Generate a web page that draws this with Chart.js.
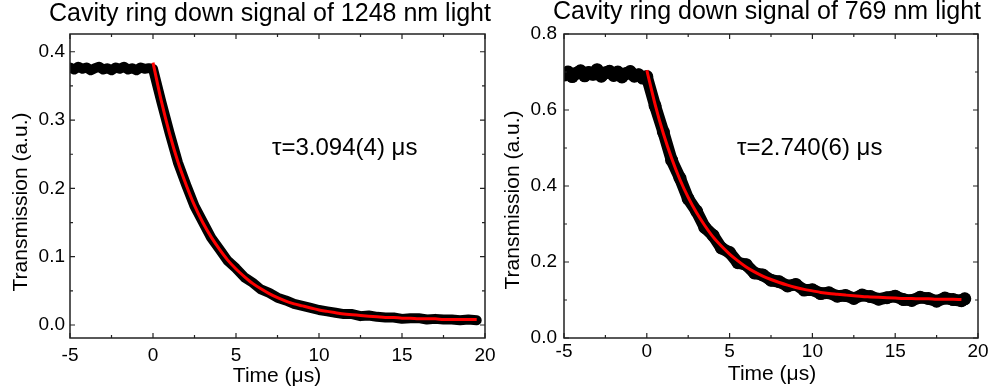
<!DOCTYPE html>
<html>
<head>
<meta charset="utf-8">
<script src="https://cdn.jsdelivr.net/npm/chart.js@4.4.0/dist/chart.umd.min.js"></script>
<style>
    body { margin: 0; background: #fff; }
    #contenedor { width: 990px; height: 391px; display: flex; }
    canvas { display: block; }
</style>
</head>
<body>
<div id="contenedor">
    <canvas id="chart1" width="495" height="391"></canvas>
    <canvas id="chart2" width="495" height="391"></canvas>
</div>
<script>
//--------------------------------------DATOS 1248 nm
var tiempo1248 = [-5, -4.75, -4.5, -4.25, -4, -3.75, -3.5, -3.25, -3, -2.75, -2.5, -2.25, -2, -1.75, -1.5, -1.25, -1, -0.75, -0.5, -0.25, 0,
    0.5, 1, 1.5, 2, 2.5, 3, 3.5, 4, 4.5, 5, 5.5, 6, 6.5, 7, 7.5, 8, 8.5, 9, 9.5, 10,
    10.5, 11, 11.5, 12, 12.5, 13, 13.5, 14, 14.5, 15, 15.5, 16, 16.5, 17, 17.5, 18, 18.5, 19, 19.5];
var senal1248 = [0.377, 0.374, 0.378, 0.375, 0.377, 0.373, 0.376, 0.378, 0.374, 0.376, 0.373, 0.377, 0.375, 0.378, 0.374, 0.376, 0.373, 0.377, 0.375, 0.376, 0.375,
    0.327, 0.281, 0.238, 0.205, 0.174, 0.151, 0.128, 0.111, 0.094, 0.083, 0.070, 0.062, 0.052, 0.047, 0.040, 0.036, 0.031, 0.028, 0.025, 0.022,
    0.020, 0.018, 0.016, 0.016, 0.013, 0.014, 0.012, 0.011, 0.011, 0.009, 0.010, 0.010, 0.008, 0.009, 0.008, 0.008, 0.007, 0.008, 0.007];
var tiempoAjuste1248 = [0, 0.5, 1, 1.5, 2, 2.5, 3, 3.5, 4, 4.5, 5, 5.5, 6, 6.5, 7, 7.5, 8, 8.5, 9, 9.5,
    10, 10.5, 11, 11.5, 12, 12.5, 13, 13.5, 14, 14.5, 15, 15.5, 16, 16.5, 17, 17.5, 18, 18.5, 19, 19.5];
var ajuste1248 = [0.384, 0.328, 0.280, 0.239, 0.205, 0.175, 0.150, 0.129, 0.111, 0.095, 0.082, 0.071, 0.061, 0.053, 0.046, 0.040, 0.035, 0.031, 0.028, 0.025,
    0.022, 0.020, 0.018, 0.016, 0.015, 0.014, 0.013, 0.012, 0.011, 0.011, 0.010, 0.010, 0.009, 0.009, 0.009, 0.008, 0.008, 0.008, 0.008, 0.008];

//--------------------------------------DATOS 769 nm
var tiempo769 = [-5, -4.75, -4.5, -4.25, -4, -3.75, -3.5, -3.25, -3, -2.75, -2.5, -2.25, -2, -1.75, -1.5, -1.25, -1, -0.75, -0.5, -0.25, 0,
    0.5, 1, 1.5, 2, 2.5, 3, 3.5, 4, 4.5, 5, 5.5, 6, 6.5, 7, 7.5, 8, 8.5, 9, 9.5, 10,
    10.5, 11, 11.5, 12, 12.5, 13, 13.5, 14, 14.5, 15, 15.5, 16, 16.5, 17, 17.5, 18, 18.5, 19, 19.2];
var senal769 = [0.692, 0.700, 0.688, 0.697, 0.703, 0.690, 0.699, 0.694, 0.706, 0.689, 0.698, 0.702, 0.691, 0.700, 0.687, 0.696, 0.701, 0.689, 0.693, 0.684, 0.688,
    0.611, 0.542, 0.468, 0.421, 0.366, 0.334, 0.291, 0.270, 0.237, 0.225, 0.198, 0.193, 0.171, 0.166, 0.152, 0.148, 0.137, 0.141, 0.126, 0.127,
    0.117, 0.119, 0.110, 0.112, 0.104, 0.113, 0.109, 0.102, 0.106, 0.110, 0.101, 0.099, 0.107, 0.104, 0.097, 0.105, 0.101, 0.098, 0.103];
var tiempoAjuste769 = [0, 0.5, 1, 1.5, 2, 2.5, 3, 3.5, 4, 4.5, 5, 5.5, 6, 6.5, 7, 7.5, 8, 8.5, 9, 9.5,
    10, 10.5, 11, 11.5, 12, 12.5, 13, 13.5, 14, 14.5, 15, 15.5, 16, 16.5, 17, 17.5, 18, 18.5, 19];
var ajuste769 = [0.705, 0.615, 0.538, 0.473, 0.417, 0.370, 0.330, 0.296, 0.266, 0.242, 0.221, 0.203, 0.187, 0.174, 0.163, 0.154, 0.146, 0.139, 0.133, 0.128,
    0.124, 0.120, 0.117, 0.115, 0.113, 0.111, 0.109, 0.108, 0.107, 0.106, 0.105, 0.104, 0.104, 0.103, 0.103, 0.102, 0.102, 0.102, 0.101];

//--------------------------------------EJES
var ticksX = [-5, 0, 5, 10, 15, 20];
var ticksY1248 = [0.0, 0.1, 0.2, 0.3, 0.4];
var ticksY769 = [0.0, 0.2, 0.4, 0.6, 0.8];

var fuente = "'Liberation Sans', Arial, sans-serif";

function puntos(xs, ys) {
    var arr = [];
    for (var i = 0; i < xs.length; i++) {
        arr.push({x: xs[i], y: ys[i]});
    }
    return arr;
}

// marco con ticks hacia adentro en los cuatro lados
var marco = {
    id: 'marco',
    afterDatasetsDraw: function (chart) {
        var ctx = chart.ctx;
        var a = chart.chartArea;
        var sx = chart.scales.x;
        var sy = chart.scales.y;
        var xs = sx.ticks.map(function (t) { return t.value; });
        var ys = sy.ticks.map(function (t) { return t.value; });
        ctx.save();
        ctx.strokeStyle = '#222';
        ctx.lineWidth = 1.2;
        ctx.beginPath();
        function tickX(v, len) {
            var p = sx.getPixelForValue(v);
            ctx.moveTo(p, a.bottom); ctx.lineTo(p, a.bottom - len);
            ctx.moveTo(p, a.top); ctx.lineTo(p, a.top + len);
        }
        function tickY(v, len) {
            var p = sy.getPixelForValue(v);
            ctx.moveTo(a.left, p); ctx.lineTo(a.left + len, p);
            ctx.moveTo(a.right, p); ctx.lineTo(a.right - len, p);
        }
        for (var i = 0; i < xs.length; i++) {
            tickX(xs[i], 5);
            if (i > 0) tickX((xs[i] + xs[i - 1]) / 2, 3);
        }
        for (var j = 0; j < ys.length; j++) {
            tickY(ys[j], 5);
            if (j > 0) tickY((ys[j] + ys[j - 1]) / 2, 3);
        }
        ctx.stroke();
        ctx.lineWidth = 1.5;
        ctx.strokeRect(a.left, a.top, a.right - a.left, a.bottom - a.top);
        ctx.restore();
    }
};

// titulos y anotacion
var textos = {
    id: 'textos',
    afterDraw: function (chart, args, o) {
        var ctx = chart.ctx;
        ctx.save();
        ctx.fillStyle = '#000';
        ctx.textBaseline = 'alphabetic';
        ctx.textAlign = 'center';
        ctx.font = '25px ' + fuente;
        ctx.fillText(o.titulo, o.tituloX, o.tituloY);
        ctx.font = '21px ' + fuente;
        ctx.fillText('Time (\u03bcs)', o.ejeXx, o.ejeXy);
        ctx.save();
        ctx.translate(o.ejeYx, o.ejeYy);
        ctx.rotate(-Math.PI / 2);
        ctx.textBaseline = 'middle';
        ctx.fillText('Transmission (a.u.)', 0, 0);
        ctx.restore();
        ctx.textAlign = 'left';
        ctx.font = '24px ' + fuente;
        ctx.fillText(o.nota, o.notaX, o.notaY);
        ctx.restore();
    }
};

function crearGrafica(id, tiempo, senal, tiempoAjuste, ajuste, cfg) {
    var canvas = document.getElementById(id);
    return new Chart(canvas, {
        type: 'scatter',
        data: {
            datasets: [{
                label: 'Ajuste',
                data: puntos(tiempoAjuste, ajuste),
                showLine: true,
                borderColor: '#ff0000',
                borderWidth: 3,
                pointRadius: 0,
                cubicInterpolationMode: 'monotone',
                order: 1
            }, {
                label: 'Datos',
                data: puntos(tiempo, senal),
                showLine: true,
                borderColor: '#000',
                backgroundColor: '#000',
                borderWidth: cfg.grosor,
                borderJoinStyle: 'round',
                borderCapStyle: 'round',
                pointRadius: cfg.radio,
                pointBorderWidth: 0,
                pointBackgroundColor: '#000',
                order: 2
            }]
        },
        options: {
            responsive: false,
            animation: false,
            devicePixelRatio: 1,
            layout: {
                padding: {top: 34, right: cfg.derecha, left: 0, bottom: 0}
            },
            scales: {
                x: {
                    type: 'linear',
                    min: -5,
                    max: 20,
                    grid: {display: false, drawTicks: false},
                    border: {display: false},
                    afterBuildTicks: function (scale) {
                        scale.ticks = ticksX.map(function (v) { return {value: v}; });
                    },
                    afterFit: function (scale) {
                        scale.height = 53;
                        scale.paddingLeft = 0;
                        scale.paddingRight = 0;
                    },
                    ticks: {
                        color: '#000',
                        padding: cfg.padX,
                        font: {family: fuente, size: 19},
                        callback: function (v) { return v.toString(); }
                    }
                },
                y: {
                    type: 'linear',
                    min: cfg.yMin,
                    max: cfg.yMax,
                    grid: {display: false, drawTicks: false},
                    border: {display: false},
                    afterBuildTicks: function (scale) {
                        scale.ticks = cfg.ticksY.map(function (v) { return {value: v}; });
                    },
                    afterFit: function (scale) {
                        scale.width = cfg.anchoY;
                        scale.paddingTop = 0;
                        scale.paddingBottom = 0;
                    },
                    ticks: {
                        color: '#000',
                        padding: cfg.padY,
                        font: {family: fuente, size: 19},
                        callback: function (v) { return v.toFixed(1); }
                    }
                }
            },
            plugins: {
                legend: {display: false},
                tooltip: {enabled: false},
                textos: cfg.textos
            }
        },
        plugins: [marco, textos]
    });
}

crearGrafica('chart1', tiempo1248, senal1248, tiempoAjuste1248, ajuste1248, {
    grosor: 10, radio: 0, derecha: 10, anchoY: 70, padX: 6, padY: 5,
    yMin: -0.019, yMax: 0.426, ticksY: ticksY1248,
    textos: {
        titulo: 'Cavity ring down signal of 1248 nm light', tituloX: 270, tituloY: 21,
        ejeXx: 277, ejeXy: 382, ejeYx: 21, ejeYy: 202,
        nota: '\u03c4=3.094(4) \u03bcs', notaX: 272, notaY: 155
    }
});

crearGrafica('chart2', tiempo769, senal769, tiempoAjuste769, ajuste769, {
    grosor: 12, radio: 6.5, derecha: 12, anchoY: 69, padX: 2, padY: 7,
    yMin: 0, yMax: 0.8, ticksY: ticksY769,
    textos: {
        titulo: 'Cavity ring down signal of 769 nm light', tituloX: 272, tituloY: 19,
        ejeXx: 277, ejeXy: 380, ejeYx: 18, ejeYy: 200,
        nota: '\u03c4=2.740(6) \u03bcs', notaX: 242, notaY: 155
    }
});
</script>
</body>
</html>
